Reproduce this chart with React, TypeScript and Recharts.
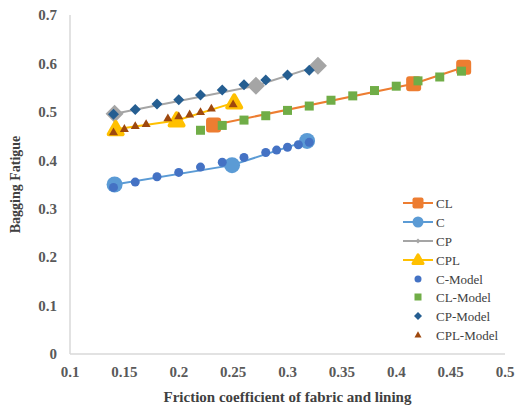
import { ScatterChart, Scatter, XAxis, YAxis, Label } from 'recharts'

// measured series (x = friction coefficient, y = bagging fatigue)
const cX = [0.141, 0.249, 0.318]
const cY = [0.35, 0.39, 0.44]
const clX = [0.232, 0.416, 0.462]
const clY = [0.473, 0.558, 0.592]
const cpX = [0.141, 0.271, 0.328]
const cpY = [0.496, 0.554, 0.595]
const cplX = [0.142, 0.198, 0.251]
const cplY = [0.464, 0.482, 0.519]

// model series
const cModelX = [0.14, 0.16, 0.18, 0.2, 0.22, 0.24, 0.26, 0.28, 0.29, 0.3, 0.31, 0.32]
const cModelY = [0.344, 0.355, 0.366, 0.375, 0.386, 0.396, 0.406, 0.416, 0.421, 0.427, 0.432, 0.437]
const clModelX = [0.22, 0.24, 0.26, 0.28, 0.3, 0.32, 0.34, 0.36, 0.38, 0.4, 0.42, 0.44, 0.46]
const clModelY = [0.462, 0.472, 0.483, 0.492, 0.503, 0.512, 0.524, 0.533, 0.544, 0.553, 0.564, 0.572, 0.584]
const cpModelX = [0.14, 0.16, 0.18, 0.2, 0.22, 0.24, 0.26, 0.28, 0.3, 0.32]
const cpModelY = [0.495, 0.505, 0.516, 0.525, 0.535, 0.545, 0.556, 0.566, 0.576, 0.586]
const cplModelX = [0.14, 0.15, 0.16, 0.17, 0.19, 0.2, 0.21, 0.22, 0.23, 0.25]
const cplModelY = [0.458, 0.465, 0.471, 0.475, 0.487, 0.491, 0.495, 0.5, 0.507, 0.516]

const xTicks = [0.1, 0.15, 0.2, 0.25, 0.3, 0.35, 0.4, 0.45, 0.5]
const yTicks = [0, 0.1, 0.2, 0.3, 0.4, 0.5, 0.6, 0.7]

const zip = (xs: number[], ys: number[]) => xs.map((x, i) => ({ x, y: ys[i] }))

const ORANGE = '#ED7D31'
const LBLUE = '#5B9BD5'
const GRAY = '#A5A5A5'
const YELLOW = '#FFC000'
const BLUE = '#4472C4'
const GREEN = '#70AD47'
const NAVY = '#255E91'
const BROWN = '#9E480E'

const FONT = '"Liberation Serif", "Times New Roman", serif'

const square = (s: number, fill: string, rx = 0) => (p: any) => (
  <rect x={p.cx - s / 2} y={p.cy - s / 2} width={s} height={s} rx={rx} fill={fill} />
)
const circle = (r: number, fill: string) => (p: any) => <circle cx={p.cx} cy={p.cy} r={r} fill={fill} />
const diamond = (h: number, fill: string) => (p: any) => (
  <path d={`M${p.cx},${p.cy - h}L${p.cx + h},${p.cy}L${p.cx},${p.cy + h}L${p.cx - h},${p.cy}Z`} fill={fill} />
)
const triangle = (w: number, fill: string, round = 0) => (p: any) => {
  const h = w * 0.87
  return (
    <path
      d={`M${p.cx},${p.cy - h * 0.6}L${p.cx + w / 2},${p.cy + h * 0.4}L${p.cx - w / 2},${p.cy + h * 0.4}Z`}
      fill={fill}
      stroke={round ? fill : 'none'}
      strokeWidth={round}
      strokeLinejoin="round"
    />
  )
}

const tickStyle = { fontSize: 15, fontWeight: 700, fill: '#595959', fontFamily: FONT }
const titleStyle = { fontSize: 15, fontWeight: 700, fill: '#404040', fontFamily: FONT }

function LegendRow({ y, label, line, marker }: { y: number; label: string; line?: string; marker: any }) {
  return (
    <g>
      {line && <line x1={403} x2={433} y1={y} y2={y} stroke={line} strokeWidth={2} />}
      {marker({ cx: 418, cy: y })}
      <text x={436} y={y + 4.5} fontSize={13} fontFamily={FONT} fill="#404040">
        {label}
      </text>
    </g>
  )
}

export default function App() {
  return (
    <div style={{ position: 'absolute', left: 0, top: 0, width: 517, height: 407, background: '#fff' }}>
      <ScatterChart width={517} height={407} margin={{ top: 15, right: 12, bottom: 0, left: 0 }}>
        <XAxis
          type="number"
          dataKey="x"
          domain={[0.1, 0.5]}
          ticks={xTicks}
          interval={0}
          height={53}
          axisLine={{ stroke: '#d9d9d9', strokeWidth: 1.5 }}
          tickLine={false}
          tickSize={6}
          tickMargin={6}
          tick={tickStyle}
        >
          <Label
            value="Friction coefficient of fabric and lining"
            position="insideBottom"
            offset={5}
            style={titleStyle}
          />
        </XAxis>
        <YAxis
          type="number"
          dataKey="y"
          domain={[0, 0.7]}
          ticks={yTicks}
          interval={0}
          width={70}
          axisLine={{ stroke: '#d9d9d9', strokeWidth: 1.5 }}
          tickLine={false}
          tickSize={6}
          tickMargin={7}
          tick={tickStyle}
        >
          <Label
            value="Bagging Fatigue"
            angle={-90}
            position="insideLeft"
            offset={15}
            style={{ ...titleStyle, fontSize: 14, textAnchor: 'middle' }}
          />
        </YAxis>

        <Scatter name="CL" data={zip(clX, clY)} line={{ stroke: ORANGE, strokeWidth: 2 }} shape={square(15, ORANGE, 3)} isAnimationActive={false} />
        <Scatter name="C" data={zip(cX, cY)} line={{ stroke: LBLUE, strokeWidth: 2 }} shape={circle(8, LBLUE)} isAnimationActive={false} />
        <Scatter name="CP" data={zip(cpX, cpY)} line={{ stroke: GRAY, strokeWidth: 2 }} shape={diamond(9, GRAY)} isAnimationActive={false} />
        <Scatter name="CPL" data={zip(cplX, cplY)} line={{ stroke: YELLOW, strokeWidth: 2 }} shape={triangle(14, YELLOW, 4)} isAnimationActive={false} />

        <Scatter name="C-Model" data={zip(cModelX, cModelY)} shape={circle(4.5, BLUE)} isAnimationActive={false} />
        <Scatter name="CL-Model" data={zip(clModelX, clModelY)} shape={square(9, GREEN)} isAnimationActive={false} />
        <Scatter name="CP-Model" data={zip(cpModelX, cpModelY)} shape={diamond(5.5, NAVY)} isAnimationActive={false} />
        <Scatter name="CPL-Model" data={zip(cplModelX, cplModelY)} shape={triangle(9, BROWN)} isAnimationActive={false} />
      </ScatterChart>

      <svg width={517} height={407} style={{ position: 'absolute', left: 0, top: 0, pointerEvents: 'none' }}>
        <LegendRow y={203} label="CL" line={ORANGE} marker={square(11, ORANGE, 2)} />
        <LegendRow y={222} label="C" line={LBLUE} marker={circle(5.5, LBLUE)} />
        <LegendRow y={241} label="CP" line={GRAY} marker={diamond(2.5, GRAY)} />
        <LegendRow y={260} label="CPL" line={YELLOW} marker={triangle(10, YELLOW, 3)} />
        <LegendRow y={279} label="C-Model" marker={circle(3.5, BLUE)} />
        <LegendRow y={297} label="CL-Model" marker={square(7, GREEN)} />
        <LegendRow y={316} label="CP-Model" marker={diamond(4, NAVY)} />
        <LegendRow y={335} label="CPL-Model" marker={triangle(7, BROWN)} />
      </svg>
    </div>
  )
}
